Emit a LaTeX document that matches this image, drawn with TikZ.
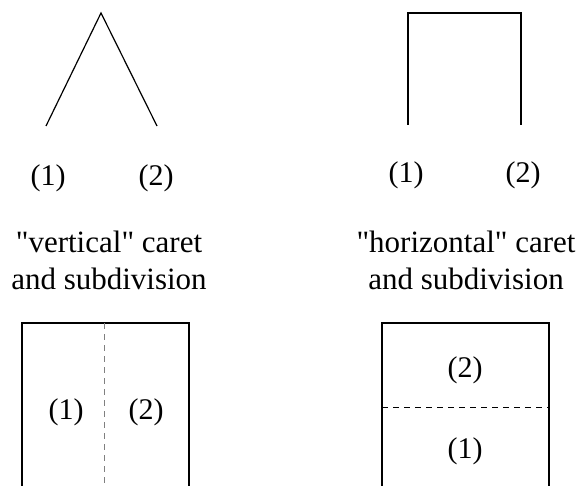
\documentclass[tikz,border=0pt]{standalone}
\usepackage{fontspec}
\setmainfont{Liberation Serif}
\newfontfamily\plainserif{Liberation Serif}
\begin{document}
\begin{tikzpicture}[x=1pt,y=-1pt,
  lab/.style={font=\plainserif\fontsize{30}{36}\selectfont, inner sep=0pt},
  captxt/.style={font=\plainserif\fontsize{31}{37}\selectfont, inner sep=0pt},
  ln/.style={line width=1.2pt, line cap=butt, line join=miter},
  dsh/.style={line width=1pt, dash pattern=on 6pt off 5pt}]
\useasboundingbox (0,0) rectangle (577,486);
% vertical caret
\coordinate (vt) at (101,13);
\coordinate (vl) at (46,126);
\coordinate (vr) at (157,126);
\draw[ln] (vl) -- (vt) -- (vr);
\node[lab] (v1) at (48,178) {(1)};
\node[lab] (v2) at (156,178) {(2)};
% horizontal caret
\coordinate (hl) at (408,125);
\coordinate (htl) at (408,13);
\coordinate (htr) at (521,13);
\coordinate (hr) at (521,125);
\draw[ln] (hl) -- (htl) -- (htr) -- (hr);
\node[lab] (h1) at (406,175) {(1)};
\node[lab] (h2) at (523,175) {(2)};
% captions
\node[captxt] (vc1) at (109,242) {"vertical" caret};
\node[captxt] (vc2) at (109,279) {and subdivision};
\node[captxt] (hc1) at (466,242) {"horizontal" caret};
\node[captxt] (hc2) at (466,279) {and subdivision};
% vertical subdivision box
\coordinate (a1) at (22,486);
\coordinate (a2) at (22,323);
\coordinate (a3) at (189,323);
\coordinate (a4) at (189,486);
\draw[ln] (a1) -- (a2) -- (a3) -- (a4);
\coordinate (ad1) at (104,323);
\coordinate (ad2) at (104,486);
\draw[dsh, gray] (ad1) -- (ad2);
\node[lab] (b1) at (66,412) {(1)};
\node[lab] (b2) at (146,412) {(2)};
% horizontal subdivision box
\coordinate (c1) at (382,486);
\coordinate (c2) at (382,323);
\coordinate (c3) at (549,323);
\coordinate (c4) at (549,486);
\draw[ln] (c1) -- (c2) -- (c3) -- (c4);
\coordinate (cd1) at (382,407);
\coordinate (cd2) at (549,407);
\draw[dsh] (cd1) -- (cd2);
\node[lab] (d2) at (465,370) {(2)};
\node[lab] (d1) at (465,451) {(1)};
\end{tikzpicture}
\end{document}
